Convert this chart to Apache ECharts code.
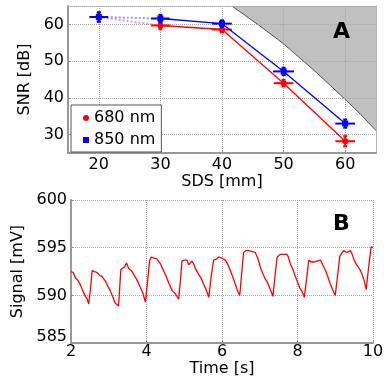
<!DOCTYPE html>
<html><head><meta charset="utf-8">
<script src="https://cdn.jsdelivr.net/npm/echarts@6/dist/echarts.min.js"></script>
<style>html,body{margin:0;padding:0;background:#fff}#c{width:390px;height:378px}</style>
</head><body><div id="c"></div>
<script>
// ---- Panel A data ----
const sds = [20, 30, 40, 50, 60];
const snr680 = [62.0, 59.7, 58.6, 44.0, 28.2];
const snr850 = [62.0, 61.6, 60.2, 47.2, 33.0];
const xErr680 = [1.5, 1.5, 1.6, 1.6, 1.6];
const yErr680 = [1.2, 1.0, 0.8, 0.9, 1.4];
const xErr850 = [1.5, 1.5, 1.6, 1.7, 1.6];
const yErr850 = [1.3, 1.0, 0.9, 1.0, 1.1];
const limitX = [41.6, 45.8, 50.0, 55.0, 60.0, 62.5, 65.0];
const limitY = [65.0, 60.0, 54.7, 47.4, 39.6, 35.5, 31.1];
const sdsTicks = [20, 30, 40, 50, 60];
const snrTicks = [30, 40, 50, 60];
// ---- Panel B data ----
const time = [2.00,2.06,2.12,2.18,2.25,2.31,2.38,2.43,2.47,2.52,2.56,2.62,2.69,2.76,2.82,2.87,2.91,2.97,3.04,3.10,3.17,3.22,3.26,3.29,3.32,3.37,3.42,3.47,3.53,3.60,3.66,3.75,3.84,3.90,3.97,4.03,4.08,4.12,4.20,4.28,4.37,4.45,4.52,4.59,4.68,4.76,4.85,4.90,4.94,5.00,5.07,5.12,5.16,5.20,5.25,5.31,5.38,5.45,5.51,5.58,5.65,5.71,5.78,5.85,5.91,6.00,6.09,6.15,6.22,6.28,6.35,6.42,6.47,6.52,6.57,6.64,6.71,6.80,6.88,6.95,7.02,7.08,7.15,7.20,7.24,7.30,7.35,7.40,7.46,7.54,7.63,7.68,7.72,7.76,7.81,7.88,7.94,8.00,8.06,8.12,8.18,8.24,8.30,8.36,8.43,8.52,8.61,8.68,8.74,8.80,8.87,8.93,9.00,9.06,9.12,9.17,9.22,9.27,9.31,9.36,9.40,9.45,9.49,9.55,9.62,9.67,9.71,9.77,9.82,9.88,9.95,10.00];
const signal = [592.5,592.4,591.8,591.6,591.1,590.5,589.9,589.6,589.1,590.8,592.6,592.5,592.4,592.1,592.0,591.9,591.5,591.0,590.5,589.9,589.2,589.0,588.9,590.8,592.7,592.9,593.0,593.4,592.8,592.6,592.2,591.6,590.8,590.3,589.3,591.5,593.6,594.0,593.9,593.8,593.3,592.6,592.0,591.3,590.5,590.2,589.6,591.6,593.6,593.7,593.7,593.2,593.3,593.6,593.3,592.7,592.2,591.8,591.2,590.6,589.8,591.9,593.7,593.8,594.0,593.9,593.7,593.3,592.6,592.0,591.2,590.4,590.0,592.2,594.5,594.7,594.7,594.6,594.5,593.9,592.9,592.3,591.7,591.4,591.0,590.4,589.9,591.9,594.0,594.3,594.3,594.2,594.3,594.0,593.3,592.7,592.0,591.4,590.8,590.4,589.8,591.7,593.7,593.5,593.5,593.6,593.7,593.1,592.6,592.0,591.2,590.6,590.0,592.0,594.1,594.4,594.7,594.5,594.5,594.6,594.7,594.3,593.8,593.3,592.9,592.6,592.2,591.5,590.6,592.8,595.1,595.0];
const timeTicks = [2, 4, 6, 8, 10];
const sigTicks = [585, 590, 595, 600];

const FONT = 'DejaVu Sans';
const RED = '#ff0000', BLUE = '#0000ff';
const gridLine = {show: true, lineStyle: {color: '#a8a8a8', type: 'dotted', width: 1}};
const axLine = {show: true, lineStyle: {color: '#999', width: 2}};
const axTick = {show: true, inside: true, length: 3, lineStyle: {color: '#999'}};
const lbl = {color: '#000', fontSize: 16, fontFamily: FONT};

function errItems(xs, ys, xe, ye) { return xs.map((x, i) => [x, ys[i], xe[i], ye[i]]); }
function errRender(color, square) {
  return function (params, api) {
    const x = api.value(0), y = api.value(1), xe = api.value(2), ye = api.value(3);
    const p = api.coord([x, y]);
    const l = api.coord([x - xe, y]), r = api.coord([x + xe, y]);
    const t = api.coord([x, y + ye]), b = api.coord([x, y - ye]);
    const st = {stroke: color, lineWidth: 2};
    const marker = square
      ? {type: 'rect', shape: {x: p[0] - 3, y: p[1] - 3, width: 6, height: 6}, style: {fill: color}}
      : {type: 'circle', shape: {cx: p[0], cy: p[1], r: 3}, style: {fill: color}};
    return {type: 'group', children: [
      {type: 'line', shape: {x1: l[0], y1: l[1], x2: r[0], y2: r[1]}, style: st},
      {type: 'line', shape: {x1: t[0], y1: t[1], x2: b[0], y2: b[1]}, style: st},
      {type: 'line', shape: {x1: p[0]-2, y1: t[1], x2: p[0]+2, y2: t[1]}, style: st},
      {type: 'line', shape: {x1: p[0]-2, y1: b[1], x2: p[0]+2, y2: b[1]}, style: st},
      marker
    ]};
  };
}
const pairs = (xs, ys, from, to) => xs.slice(from, to).map((x, i) => [x, ys[from + i]]);

const chart = echarts.init(document.getElementById('c'), null, {renderer: 'canvas'});
chart.setOption({
  animation: false,
  textStyle: {fontFamily: FONT},
  grid: [
    {left: 68, right: 14, top: 6, height: 147},
    {left: 71, right: 17, top: 200, height: 144}
  ],
  xAxis: [
    {gridIndex: 0, type: 'value', min: 15, max: 65, interval: 10, z: 3,
     name: 'SDS [mm]', nameLocation: 'middle', nameGap: 20, nameTextStyle: lbl,
     axisLine: axLine,
     axisLabel: Object.assign({margin: 4, customValues: sdsTicks}, lbl),
     axisTick: Object.assign({customValues: sdsTicks}, axTick),
     splitLine: gridLine},
    {gridIndex: 1, type: 'value', min: 2, max: 10, interval: 2, z: 3,
     name: 'Time [s]', nameLocation: 'middle', nameGap: 15, nameTextStyle: lbl,
     axisLine: axLine, axisTick: axTick, splitLine: gridLine,
     axisLabel: Object.assign({margin: 1}, lbl)},
    {gridIndex: 0, type: 'value', min: 15, max: 65, position: 'top', z: 3,
     axisLine: {show: true, lineStyle: {color: '#a8a8a8', type: 'dotted'}},
     axisLabel: {show: false}, axisTick: {show: false}, splitLine: {show: false}}
  ],
  yAxis: [
    {gridIndex: 0, type: 'value', min: 25, max: 65, interval: 10, z: 3,
     name: 'SNR [dB]', nameLocation: 'middle', nameGap: 22, nameTextStyle: lbl,
     axisLine: axLine,
     axisLabel: Object.assign({margin: 4, customValues: snrTicks}, lbl),
     axisTick: Object.assign({customValues: snrTicks}, axTick),
     splitLine: gridLine},
    {gridIndex: 1, type: 'value', min: 585, max: 600, interval: 5, z: 3,
     name: 'Signal [mV]', nameLocation: 'middle', nameGap: 30, nameTextStyle: lbl,
     axisLine: axLine, axisTick: axTick, splitLine: gridLine,
     axisLabel: Object.assign({margin: 4,
       formatter: v => v === 585 ? '{low|585}' : String(v),
       rich: {low: {fontSize: 16, fontFamily: FONT, color: '#000', padding: [0, 0, 12, 0]}}}, lbl)},
    {gridIndex: 0, type: 'value', min: 25, max: 65, position: 'right', z: 3,
     axisLine: {show: true, lineStyle: {color: '#a8a8a8', type: 'dotted'}},
     axisLabel: {show: false}, axisTick: {show: false}, splitLine: {show: false}}
  ],
  legend: {
    left: 71, top: 105, orient: 'vertical', z: 10,
    borderColor: '#555', borderWidth: 1, backgroundColor: '#fff',
    padding: [5, 6, 4, 12], itemGap: 6, itemWidth: 6, itemHeight: 6,
    textStyle: {fontSize: 16, fontFamily: FONT, color: '#000'},
    data: [{name: '680 nm', icon: 'circle'}, {name: '850 nm', icon: 'rect'}]
  },
  graphic: [
    {type: 'text', left: 333, top: 21, z: 10, style: {text: 'A', font: 'bold 22px "DejaVu Sans"', fill: '#000'}},
    {type: 'text', left: 333, top: 213, z: 10, style: {text: 'B', font: 'bold 22px "DejaVu Sans"', fill: '#000'}}
  ],
  series: [
    {type: 'custom', xAxisIndex: 0, yAxisIndex: 0, z: 1, silent: true, data: [[0, 0]],
     renderItem: function (params, api) {
       const pts = limitX.map((x, i) => api.coord([x, limitY[i]]));
       const poly = pts.concat([api.coord([65, 65])]);
       return {type: 'group', children: [
         {type: 'polygon', shape: {points: poly}, style: {fill: '#c0c0c0'}},
         {type: 'polyline', shape: {points: pts}, style: {stroke: '#555', lineWidth: 1, fill: null}}
       ]};
     }},
    {name: '680 nm', type: 'line', xAxisIndex: 0, yAxisIndex: 0, symbol: 'none', z: 4,
     color: RED, lineStyle: {color: RED, width: 1.3}, data: pairs(sds, snr680, 1, 5)},
    {type: 'line', xAxisIndex: 0, yAxisIndex: 0, symbol: 'none', z: 4,
     lineStyle: {color: RED, width: 2, type: 'dotted', opacity: 0.4}, data: pairs(sds, snr680, 0, 2)},
    {type: 'custom', xAxisIndex: 0, yAxisIndex: 0, z: 4, renderItem: errRender(RED, false),
     data: errItems(sds, snr680, xErr680, yErr680)},
    {name: '850 nm', type: 'line', xAxisIndex: 0, yAxisIndex: 0, symbol: 'none', z: 5,
     color: BLUE, lineStyle: {color: BLUE, width: 1.3}, data: pairs(sds, snr850, 1, 5)},
    {type: 'line', xAxisIndex: 0, yAxisIndex: 0, symbol: 'none', z: 5,
     lineStyle: {color: BLUE, width: 2, type: 'dotted', opacity: 0.4}, data: pairs(sds, snr850, 0, 2)},
    {type: 'custom', xAxisIndex: 0, yAxisIndex: 0, z: 5, renderItem: errRender(BLUE, true),
     data: errItems(sds, snr850, xErr850, yErr850)},
    {type: 'line', xAxisIndex: 1, yAxisIndex: 1, symbol: 'none', z: 4,
     lineStyle: {color: RED, width: 1.3}, data: time.map((t, i) => [t, signal[i]])}
  ]
});
</script></body></html>
